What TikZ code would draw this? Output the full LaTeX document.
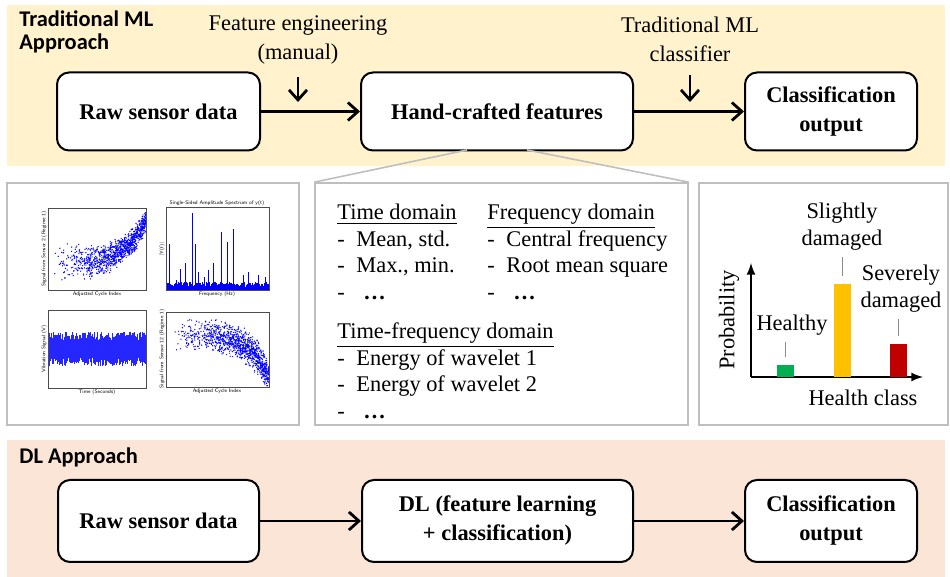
\documentclass[tikz,border=0pt]{standalone}
\usepackage{fontspec}
\setmainfont{Liberation Serif}
\newfontfamily\headfont{Carlito}
\usetikzlibrary{arrows,arrows.meta}
\definecolor{bandyellow}{HTML}{FFF2CC}
\definecolor{bandorange}{HTML}{FBE5D6}
\definecolor{panelgray}{HTML}{BFBFBF}
\definecolor{bargreen}{HTML}{00B050}
\definecolor{baryellow}{HTML}{FFC000}
\definecolor{barred}{HTML}{C00000}
\newcommand{\itm}{\makebox[9.5pt][l]{-}}
\tikzset{
  box_/.style   = {shape=rectangle, draw, rounded corners=6pt, fill=white, line width=1pt,
                   align=center, minimum height=39pt, font=\fontsize{11.2}{14.5}\selectfont\bfseries},
  flow_/.style  = {draw, line width=1.4pt, -{Straight Barb[length=5pt,width=9pt]}},
  note_/.style  = {align=center, font=\fontsize{11.2}{14.5}\selectfont},
  head_/.style  = {anchor=base west, align=left, inner sep=0, font=\fontsize{11.2}{11.5}\selectfont\headfont\bfseries},
  list_/.style  = {anchor=base west, align=left, inner sep=0, font=\fontsize{11.2}{13.25}\selectfont},
  panel_/.style = {shape=rectangle, draw=panelgray, line width=0.8pt, fill=white, inner sep=0},
  tick_/.style  = {draw=black!45, line width=0.5pt, shorten >=3.5pt},
  bar_/.style   = {shape=rectangle, anchor=south, inner sep=0, minimum width=8.5pt},
  tiny_/.style  = {font=\fontsize{2.6}{3}\selectfont\sffamily, inner sep=0.5pt}
}
\begin{document}
\begin{tikzpicture}
		[
		x                       = 0.5pt,
		y                       = -0.5pt,
		every node/.style       = {font=\fontsize{11.2}{13.2}\selectfont}
		]
		\useasboundingbox (0,0) rectangle (950,577);
		\fill[bandyellow] (7,5) rectangle (945,166);
		\fill[bandorange] (7,440) rectangle (945,577);

		\node [head_] at (19,50) {Traditional ML\\Approach};
		\node [head_] at (19,464) {DL Approach};

		\node [box_, minimum width=101.5pt] (raw)   at (158.5,111.5) {Raw sensor data};
		\node [box_, minimum width=136pt]   (hand)  at (497,111.5)   {Hand-crafted features};
		\node [box_, minimum width=86pt]    (class) at (831,111.5)   {Classification\\output};
		\draw [flow_] (raw) -- (hand);
		\draw [flow_] (hand) -- (class);

		\node [note_] (feng) at (298,39.5) {Feature engineering\\(manual)};
		\node [note_] (clf)  at (690,39.5) {Traditional ML\\classifier};
		\coordinate (fengtip) at (298,102);
		\coordinate (clftip)  at (690,102);
		\draw [flow_, shorten <=3pt] (feng) -- (fengtip);
		\draw [flow_, shorten <=3pt] (clf) -- (clftip);

		\node [panel_, minimum width=146pt,   minimum height=121pt] (sigpanel)  at (153,304)   {};
		\node [panel_, minimum width=186.5pt, minimum height=121pt] (featpanel) at (501.5,304) {};
		\node [panel_, minimum width=124.5pt, minimum height=121pt] (outpanel)  at (823.5,304) {};
		\coordinate (fanl) at (467,150);
		\coordinate (fanr) at (527,150);
		\draw [panelgray, line width=0.8pt] (fanl) -- (featpanel.north west);
		\draw [panelgray, line width=0.8pt] (fanr) -- (featpanel.north east);

		\begin{scope}
			\clip (48,208) rectangle (146,290);
			\pgfmathsetseed{7}
			\foreach \i in {1,...,1100}{
				\pgfmathsetmacro\u{sqrt(rnd)}
				\pgfmathsetmacro\v{rand+rand}
				\fill[blue] ({54+92*\u},{262-40*\u^4+11*(1-0.4*\u)*\v}) circle (0.35pt);
			}
		\end{scope}
		\draw [black!70, line width=0.3pt] (48,208) rectangle (146,290);
		\node [tiny_, below] at (97,290) {Adjusted Cycle Index};
		\node [tiny_, rotate=90, above] at (48,249) {Signal from Sensor 2 (Regime 1)};

		\foreach \i in {0,...,200}
			\draw[blue, line width=0.3pt] ({166+0.515*\i},290) -- ({166+0.515*\i},{287-5*rnd});
		\foreach \p/\h in {0.03/0.55, 0.1/0.12, 0.14/0.25, 0.19/0.33, 0.26/0.93, 0.29/0.55, 0.32/0.22,
				0.37/0.16, 0.41/0.24, 0.46/0.33, 0.54/0.7, 0.6/0.58, 0.66/0.73, 0.75/0.18, 0.8/0.22, 0.9/0.18, 0.97/0.16}
			\draw[blue, line width=0.5pt] ({166+103*\p},290) -- ({166+103*\p},{290-83*\h});
		\draw [black!70, line width=0.3pt] (166,207) rectangle (269,290);
		\node [tiny_, below] at (217,290) {Frequency (Hz)};
		\node [tiny_, above] at (217,207) {Single-Sided Amplitude Spectrum of y(t)};
		\node [tiny_, rotate=90, above] at (166,249) {|Y(f)|};

		\fill[blue] (48,341) rectangle (146,357);
		\foreach \i in {0,...,195}
			\draw[blue!85, line width=0.25pt] ({48+0.5*\i},{341-9*rnd}) -- ({48+0.5*\i},{357+9*rnd});
		\draw [black!70, line width=0.3pt] (48,310) rectangle (146,388);
		\node [tiny_, below] at (97,388) {Time (Seconds)};
		\node [tiny_, rotate=90, above] at (48,349) {Vibration Signal (V)};

		\begin{scope}
			\clip (166,312) rectangle (269,387);
			\foreach \i in {1,...,1100}{
				\pgfmathsetmacro\u{sqrt(rnd)}
				\pgfmathsetmacro\v{rand+rand}
				\fill[blue] ({172+97*\u},{336+42*\u^5+9*\v}) circle (0.35pt);
			}
		\end{scope}
		\draw [black!70, line width=0.3pt] (166,312) rectangle (269,387);
		\node [tiny_, below] at (217,387) {Adjusted Cycle Index};
		\node [tiny_, rotate=90, above] at (166,349) {Signal from Sensor 12 (Regime 1)};

		\node [list_] (timedom) at (337,299.5) {\underline{Time domain}\\ \itm Mean, std.\\ \itm Max., min.\\ \itm\hspace{3.5pt}\textbf{\ldots}};
		\node [list_] (freqdom) at (487,299.5) {\underline{Frequency domain}\\ \itm Central frequency\\ \itm Root mean square\\ \itm\hspace{3.5pt}\textbf{\ldots}};
		\node [list_] (tfdom)   at (337,418.5) {\underline{Time-frequency domain}\\ \itm Energy of wavelet 1\\ \itm Energy of wavelet 2\\ \itm\hspace{3.5pt}\textbf{\ldots}};

		\coordinate (origin) at (751,377);
		\coordinate (ytop)   at (751,263);
		\coordinate (xend)   at (923,377);
		\draw [line width=1pt, -latex] (origin) -- (ytop);
		\draw [line width=1pt, -latex] (origin) -- (xend);
		\node [rotate=90] (prob) at (729,320) {Probability};
		\node (hclass) at (863,398) {Health class};
		\node [bar_, fill=bargreen,  minimum height=6pt]    (barh) at (785.5,377) {};
		\node [bar_, fill=baryellow, minimum height=46.5pt] (bars) at (842,377)   {};
		\node [bar_, fill=barred,    minimum height=16.5pt] (barv) at (898.5,377) {};
		\node [note_, font=\fontsize{11.2}{13.5}\selectfont] (lblh) at (792,325)   {Healthy};
		\node [note_, font=\fontsize{11.2}{13.5}\selectfont] (lbls) at (842,226.5) {Slightly\\damaged};
		\node [note_, font=\fontsize{11.2}{13.5}\selectfont] (lblv) at (901,288.5) {Severely\\damaged};
		\draw [tick_] (lblh.south -| barh.north) -- (barh.north);
		\draw [tick_] (lbls.south -| bars.north) -- (bars.north);
		\draw [tick_] (lblv.south -| barv.north) -- (barv.north);

		\node [box_, minimum width=100.5pt, minimum height=41pt] (rawdl)   at (158.5,521) {Raw sensor data};
		\node [box_, minimum width=135.5pt, minimum height=41pt] (dl)      at (497.5,521) {DL (feature learning\\+ classification)};
		\node [box_, minimum width=86pt,    minimum height=41pt] (classdl) at (831,521)   {Classification\\output};
		\draw [flow_] (rawdl) -- (dl);
		\draw [flow_] (dl) -- (classdl);
\end{tikzpicture}
\end{document}
